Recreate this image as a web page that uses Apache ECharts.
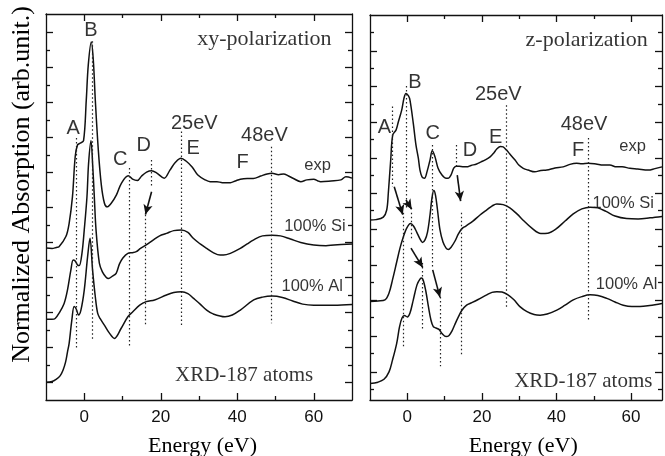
<!DOCTYPE html>
<html>
<head>
<meta charset="utf-8">
<script src="https://cdn.jsdelivr.net/npm/echarts@6/dist/echarts.min.js"></script>
<style>
html,body{margin:0;padding:0;background:#fff;}
#chart{width:665px;height:456px;}
</style>
</head>
<body>
<div id="chart"></div>
<script>
// ---------- tick values / labels ----------
const xMajorTicks = [0, 20, 40, 60];
const xMinorTicks = [10, 30, 50];
const xTickLabels = ['0', '20', '40', '60'];
const leftYMajor = [0.5, 1.5, 2.5, 3.5, 4.5, 5.5, 6.5, 7.5, 8.5, 9.5, 10.5];
const leftYMinor = [1, 2, 3, 4, 5, 6, 7, 8, 9, 10];
const rightYMajor = [0.79, 1.79, 2.79, 3.79, 4.79, 5.79, 6.79, 7.79, 8.79, 9.79];
const rightYMinor = [0.31, 1.31, 2.31, 3.31, 4.31, 5.31, 6.31, 7.31, 8.31, 9.31, 10.31];

// ---------- xy-polarization spectra [energy eV, offset intensity] ----------
const xyExp = [[-10,4.34],[-8.4,4.33],[-7.3,4.36],[-6.6,4.38],[-4.8,4.67],[-3.95,5.05],[-3.08,5.81],[-2.37,6.95],[-1.76,7.29],[-1.05,7.34],[-0.18,7.41],[0.53,8.57],[1.05,9.57],[1.84,10.23],[2.37,9.71],[2.89,8.57],[3.68,7.14],[4.47,6.14],[5.26,5.63],[5.97,5.52],[7.1,5.63],[8.42,5.86],[9.74,6.2],[11.5,6.41],[12.63,6.31],[13.87,6.27],[15.0,6.4],[16.3,6.51],[17.6,6.55],[18.9,6.49],[20.9,6.34],[22.4,6.57],[23.9,6.8],[25.3,6.91],[26.6,6.83],[28.2,6.66],[29.7,6.43],[31.6,6.29],[32.9,6.24],[34.7,6.24],[36.1,6.21],[38.2,6.21],[39.5,6.26],[40.8,6.31],[42.6,6.33],[44.2,6.33],[46.1,6.4],[47.8,6.46],[49.1,6.48],[50.8,6.44],[52.1,6.46],[53.4,6.4],[54.7,6.33],[56.6,6.24],[58.2,6.29],[60.0,6.31],[61.1,6.26],[61.8,6.24],[64.5,6.26],[67.1,6.29],[68.4,6.38],[70,6.34]];
const xySi = [[-10,2.31],[-8.42,2.31],[-7.6,2.33],[-6.58,2.48],[-5.26,2.76],[-4.39,3.14],[-3.5,3.71],[-2.89,4.0],[-2.37,3.97],[-1.76,3.86],[-1.32,3.84],[-0.6,4.19],[0.0,4.86],[0.71,5.81],[1.13,6.76],[1.76,7.41],[2.18,6.76],[2.63,5.81],[3.08,4.86],[3.95,3.91],[4.74,3.66],[5.71,3.51],[6.32,3.47],[7.37,3.54],[8.34,3.62],[9.21,3.89],[10.1,4.06],[11.4,4.19],[12.6,4.21],[13.6,4.24],[14.7,4.33],[16.2,4.43],[18.0,4.57],[19.7,4.69],[21.5,4.76],[23.4,4.84],[25.4,4.86],[27.1,4.79],[28.5,4.62],[30.3,4.46],[32.0,4.33],[33.7,4.21],[35.5,4.14],[36.4,4.14],[38.2,4.19],[40.8,4.33],[42.6,4.46],[44.2,4.57],[46.6,4.69],[49.1,4.71],[51.3,4.69],[53.9,4.6],[56.6,4.5],[60.0,4.43],[63.2,4.41],[65.3,4.43],[70,4.46]];
const xyAl = [[-10,0.51],[-8.42,0.53],[-7.37,0.59],[-6.32,0.69],[-5.53,0.86],[-4.87,1.09],[-4.39,1.37],[-3.95,1.62],[-3.24,2.29],[-2.63,2.67],[-2.1,2.6],[-1.5,2.43],[-0.87,2.57],[0.0,3.14],[0.87,4.09],[1.5,4.62],[2.18,3.71],[2.89,2.95],[3.5,2.48],[4.13,2.33],[5.26,2.14],[6.58,1.91],[7.89,1.76],[9.66,2.05],[11.4,2.38],[12.7,2.52],[14.5,2.71],[16.2,2.81],[18.4,2.86],[21.5,3.0],[23.4,3.07],[25.4,3.09],[27.1,3.04],[28.5,2.91],[30.3,2.74],[32.0,2.57],[33.7,2.46],[36.8,2.38],[38.7,2.43],[40.8,2.57],[44.3,2.86],[46.6,2.94],[49.1,2.97],[51.8,2.93],[54.5,2.83],[57.1,2.74],[60.0,2.71],[65.3,2.71],[70,2.73]];

// ---------- z-polarization spectra ----------
const zExp = [[-10,5.05],[-8.39,5.06],[-6.43,5.13],[-5.52,5.33],[-5.09,5.8],[-4.45,6.73],[-3.91,7.43],[-3.03,7.57],[-2.41,7.8],[-1.5,8.13],[-0.88,8.47],[-0.35,8.6],[0.32,8.53],[0.72,8.41],[1.61,7.76],[2.33,7.15],[2.95,6.79],[3.4,6.45],[3.94,6.26],[4.61,6.22],[5.28,6.4],[6.09,6.73],[6.7,6.99],[7.43,6.82],[8.23,6.51],[9.3,6.31],[10.4,6.22],[11.0,6.22],[11.7,6.31],[12.5,6.51],[13.2,6.56],[14.4,6.55],[15.9,6.54],[17.1,6.58],[18.6,6.62],[19.8,6.68],[20.8,6.73],[22.2,6.82],[23.2,6.93],[24.0,7.04],[25.0,7.11],[25.7,7.1],[26.6,7.01],[27.5,6.9],[28.9,6.73],[29.9,6.59],[31.1,6.5],[32.4,6.45],[34.2,6.4],[35.8,6.44],[37.4,6.45],[39.6,6.51],[41.8,6.54],[43.6,6.61],[45.4,6.64],[46.8,6.63],[48.5,6.64],[50.6,6.62],[52.5,6.59],[54.3,6.59],[56.1,6.54],[57.6,6.54],[59.7,6.5],[61.8,6.48],[64.6,6.45],[66.4,6.49],[68.3,6.54]];
const zSi = [[-10,2.76],[-7.86,2.78],[-5.98,2.81],[-4.9,3.0],[-3.97,3.37],[-2.84,3.87],[-1.96,4.26],[-1.07,4.57],[-0.16,4.82],[0.86,4.95],[1.66,4.88],[2.52,4.71],[3.4,4.52],[4.08,4.42],[4.75,4.49],[5.42,4.71],[6.09,5.19],[6.62,5.67],[7.1,5.88],[7.56,5.75],[8.1,5.33],[8.77,4.77],[9.57,4.43],[10.4,4.26],[11.0,4.22],[11.7,4.28],[12.8,4.46],[13.7,4.66],[14.6,4.8],[15.7,4.88],[17.6,5.02],[19.5,5.19],[21.4,5.34],[22.7,5.44],[24.0,5.5],[25.7,5.48],[27.5,5.39],[29.4,5.22],[31.3,5.02],[33.4,4.82],[35.8,4.67],[37.7,4.68],[39.9,4.8],[42.3,5.02],[44.5,5.22],[46.8,5.36],[49.0,5.41],[51.1,5.39],[53.3,5.29],[55.7,5.16],[58.8,5.09],[61.9,5.08],[65.1,5.11],[68.3,5.15]];
const zAl = [[-10,0.46],[-7.86,0.5],[-6.25,0.58],[-4.9,0.79],[-3.97,1.12],[-2.84,1.59],[-2.09,2.05],[-1.42,2.3],[-0.75,2.37],[0.0,2.33],[0.72,2.44],[1.61,2.81],[2.6,3.23],[3.4,3.39],[3.86,3.42],[4.34,3.34],[5.01,3.03],[5.68,2.61],[6.35,2.24],[6.97,2.06],[7.69,2.02],[8.5,1.98],[9.44,1.85],[10.4,1.78],[11.2,1.81],[12.0,1.94],[12.8,2.13],[13.7,2.33],[14.6,2.51],[15.9,2.66],[17.3,2.73],[19.0,2.82],[21.3,2.95],[22.7,3.02],[24.0,3.04],[25.4,3.03],[27.0,2.95],[28.6,2.81],[30.2,2.62],[32.1,2.48],[34.0,2.4],[35.6,2.38],[37.5,2.41],[40.1,2.52],[42.3,2.66],[44.5,2.81],[46.8,2.9],[49.0,2.95],[51.1,2.93],[53.5,2.85],[55.7,2.75],[57.9,2.66],[60.2,2.62],[62.4,2.62],[65.0,2.65],[68.3,2.71]];

// ---------- dotted guides [x, y1, y2] and arrows [x1, y1, x2, y2] ----------
const xyGuides = [[-2.1,7.49,1.43],[2.0,10.25,1.71],[11.7,6.63,1.52],[17.6,6.86,6.09],[16.0,5.29,2.14],[25.4,7.67,2.14],[48.9,7.24,2.19]];
const xyArrows = [[17.6,5.95,16.0,5.3]];
const zGuides = [[-3.91,8.23,5.98],[-1.07,5.25,1.45],[-0.16,8.81,5.39],[1.18,5.25,4.49],[4.13,3.84,1.96],[6.81,7.15,3.73],[8.77,2.89,0.95],[13.06,7.15,6.54],[14.4,5.25,1.23],[26.5,8.27,2.58],[48.6,7.35,2.24]];
const zArrows = [[-3.5,5.98,-1.23,5.2],[-0.35,5.61,1.18,5.35],[0.99,4.26,4.13,3.72],[6.81,3.65,8.77,2.88],[13.4,6.31,14.3,5.58]];

// ---------- annotations [x, y, text, style] ----------
const xyNotes = [[-2.89,7.76,'A','pk'],[1.76,10.57,'B','pk'],[9.39,6.88,'C','pk'],[15.53,7.26,'D','pk'],[28.76,7.89,'25eV','pk'],[28.5,7.19,'E','pk'],[47.1,7.57,'48eV','pk'],[41.4,6.79,'F','pk'],[61.0,6.71,'exp','sm'],[60.3,4.95,'100% Si','sm'],[59.6,3.24,'100% Al','sm'],[41.8,0.71,'XRD-187 atoms','serif'],[47.1,10.31,'xy-polarization','title']];
const zNotes = [[-6.11,7.64,'A','pk'],[2.06,8.9,'B','pk'],[6.81,7.48,'C','pk'],[16.8,7.01,'D','pk'],[23.7,7.37,'E','pk'],[24.4,8.56,'25eV','pk'],[47.4,7.74,'48eV','pk'],[45.8,7.01,'F','pk'],[60.4,7.11,'exp','sm'],[57.9,5.52,'100% Si','sm'],[58.8,3.23,'100% Al','sm'],[47.2,0.51,'XRD-187 atoms','serif'],[48.1,10.1,'z-polarization','title']];

const SANS = 'Liberation Sans, Arial, sans-serif';
const SERIF = 'Liberation Serif, Times New Roman, serif';
const INK = '#000';
const noteStyles = {
  pk: {fontFamily: SANS, fontSize: 20},
  sm: {fontFamily: SANS, fontSize: 16.5},
  serif: {fontFamily: SERIF, fontSize: 21},
  title: {fontFamily: SERIF, fontSize: 22}
};

const grids = [
  {left: 46, top: 14, width: 306, height: 386, xMax: 70, yMax: 11.03, yMajor: leftYMajor, yMinor: leftYMinor},
  {left: 370, top: 15, width: 292, height: 385, xMax: 68.3, yMax: 10.8, yMajor: rightYMajor, yMinor: rightYMinor}
];

const lineCol = {color: '#111', width: 1.3};
function xAx(gi, pos, values, len, showLine, showLabel, xMax) {
  return {
    type: 'value', gridIndex: gi, position: pos, min: -10, max: xMax,
    axisLine: {show: showLine, onZero: false, lineStyle: lineCol},
    axisTick: {show: true, inside: true, length: len, customValues: values, lineStyle: lineCol},
    axisLabel: showLabel ? {show: true, customValues: xMajorTicks, formatter: v => xTickLabels[xMajorTicks.indexOf(v)],
      margin: 9, fontSize: 17, color: '#111', fontFamily: SANS} : {show: false},
    splitLine: {show: false}
  };
}
function yAx(gi, pos, values, len, showLine, yMax) {
  return {
    type: 'value', gridIndex: gi, position: pos, min: 0, max: yMax,
    axisLine: {show: showLine, onZero: false, lineStyle: lineCol},
    axisTick: {show: true, inside: true, length: len, customValues: values, lineStyle: lineCol},
    axisLabel: {show: false}, splitLine: {show: false}
  };
}

const xAxes = [], yAxes = [];
grids.forEach((g, gi) => {
  xAxes.push(xAx(gi, 'bottom', xMajorTicks, 7, true, true, g.xMax));
  xAxes.push(xAx(gi, 'bottom', xMinorTicks, 4, false, false, g.xMax));
  xAxes.push(xAx(gi, 'top', xMajorTicks, 7, true, false, g.xMax));
  xAxes.push(xAx(gi, 'top', xMinorTicks, 4, false, false, g.xMax));
  yAxes.push(yAx(gi, 'left', g.yMajor, 7, true, g.yMax));
  yAxes.push(yAx(gi, 'left', g.yMinor, 4, false, g.yMax));
  yAxes.push(yAx(gi, 'right', g.yMajor, 7, true, g.yMax));
  yAxes.push(yAx(gi, 'right', g.yMinor, 4, false, g.yMax));
});

const series = [];
function curve(data, gi) {
  series.push({type: 'line', xAxisIndex: gi * 4, yAxisIndex: gi * 4, data: data, symbol: 'none', smooth: 0.35,
    lineStyle: {color: '#111', width: 1.5}, silent: true, animation: false, z: 3});
}
function guides(list, arrows, gi) {
  series.push({type: 'line', xAxisIndex: gi * 4, yAxisIndex: gi * 4, data: [], symbol: 'none', animation: false,
    markLine: {silent: true, animation: false, symbol: ['none', 'none'], label: {show: false},
      lineStyle: {type: [1.5, 2.5], color: '#222', width: 1.2},
      data: list.map(d => [{coord: [d[0], d[1]]}, {coord: [d[0], d[2]]}])}});
  series.push({type: 'line', xAxisIndex: gi * 4, yAxisIndex: gi * 4, data: [], symbol: 'none', animation: false,
    markLine: {silent: true, animation: false, symbol: ['none', 'arrow'], symbolSize: [7, 10], label: {show: false},
      lineStyle: {type: 'solid', color: '#111', width: 1.6},
      data: arrows.map(a => [{coord: [a[0], a[1]]}, {coord: [a[2], a[3]]}])}});
}
function notes(list, gi) {
  series.push({type: 'scatter', xAxisIndex: gi * 4, yAxisIndex: gi * 4, symbolSize: 1, animation: false, silent: true,
    itemStyle: {color: 'rgba(0,0,0,0)'},
    data: list.map(n => ({value: [n[0], n[1]], label: Object.assign({show: true, position: 'inside', formatter: n[2], color: INK, textBorderWidth: 0}, noteStyles[n[3]])}))});
}
curve(xyExp, 0); curve(xySi, 0); curve(xyAl, 0);
curve(zExp, 1); curve(zSi, 1); curve(zAl, 1);
guides(xyGuides, xyArrows, 0); guides(zGuides, zArrows, 1);
notes(xyNotes, 0); notes(zNotes, 1);

const chart = echarts.init(document.getElementById('chart'), null, {renderer: 'canvas'});
chart.setOption({
  animation: false,
  backgroundColor: '#fff',
  grid: grids.map(g => ({left: g.left, top: g.top, width: g.width, height: g.height, containLabel: false})),
  xAxis: xAxes,
  yAxis: yAxes,
  series: series,
  graphic: [
    {type: 'text', x: 22.5, y: 184.5, rotation: Math.PI / 2,
      style: {text: 'Normalized Absorption (arb.unit.)', font: '26px ' + SERIF, fill: INK, align: 'center', verticalAlign: 'middle'}},
    {type: 'text', x: 202.5, y: 446, style: {text: 'Energy (eV)', font: '22px ' + SERIF, fill: INK, align: 'center', verticalAlign: 'middle'}},
    {type: 'text', x: 523.3, y: 446, style: {text: 'Energy (eV)', font: '22px ' + SERIF, fill: INK, align: 'center', verticalAlign: 'middle'}}
  ]
});
</script>
</body>
</html>
